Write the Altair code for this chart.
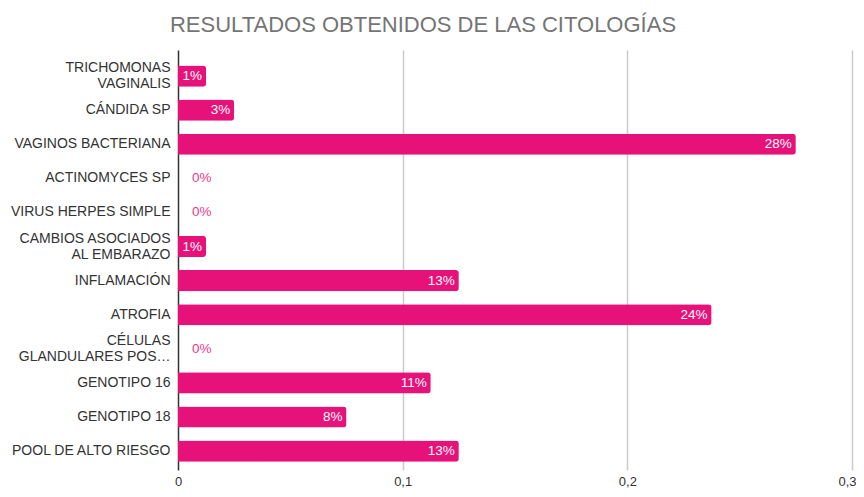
import altair as alt
import pandas as pd

categories = [
    "TRICHOMONAS\u00a0|VAGINALIS",
    "CÁNDIDA SP",
    "VAGINOS BACTERIANA",
    "ACTINOMYCES SP",
    "VIRUS HERPES SIMPLE",
    "CAMBIOS ASOCIADOS\u00a0|AL EMBARAZO",
    "INFLAMACIÓN\u00a0",
    "ATROFIA",
    "CÉLULAS\u00a0|GLANDULARES POS…",
    "GENOTIPO 16",
    "GENOTIPO 18",
    "POOL DE ALTO RIESGO",
]
values = [0.0125, 0.025, 0.275, 0.0, 0.0, 0.0125, 0.125, 0.2375, 0.0, 0.1125, 0.075, 0.125]
tick_values = [0, 0.1, 0.2, 0.3]

df = pd.DataFrame({"cat": categories, "v": values})

FONT = "Liberation Sans"
PINK = "#E7117A"

y = alt.Y(
    "cat:N",
    sort=categories,
    title=None,
    scale=alt.Scale(paddingInner=0.38, paddingOuter=0.35, align=0.65),
    axis=alt.Axis(
        labelExpr="split(datum.label, '|')",
        labelFontSize=14,
        labelColor="#333333",
        labelFont=FONT,
        labelLineHeight=16,
        labelPadding=8,
        labelBaseline="middle",
        labelOffset=alt.condition("indexof(datum.value, '|') >= 0", alt.value(-8), alt.value(0)),
        ticks=False,
        domain=False,
        labelLimit=0,
    ),
)
x = alt.X(
    "v:Q",
    title=None,
    scale=alt.Scale(domain=[0, 0.3], nice=False, zero=True),
    axis=alt.Axis(
        values=tick_values,
        labelExpr="replace(format(datum.value, '~g'), '.', ',')",
        grid=True,
        gridColor=alt.condition("datum.value === 0", alt.value("#333333"), alt.value("#cccccc")),
        gridWidth=1.5,
        domain=False,
        ticks=False,
        labelFlush=False,
        labelAlign=alt.condition("datum.value >= 0.3", alt.value("right"), alt.value("center")),
        labelOffset=alt.condition("datum.value >= 0.3", alt.value(4), alt.value(0)),
        labelPadding=5,
        labelFontSize=13,
        labelColor="#333333",
        labelFont=FONT,
    ),
)

base = alt.Chart(df)

bars = base.mark_bar(color=PINK, cornerRadiusTopRight=3, cornerRadiusBottomRight=3).encode(x=x, y=y)

inside = base.transform_filter("datum.v > 0").mark_text(
    align="right", baseline="middle", dx=-4, color="white", fontSize=13.5, font=FONT
).encode(x="v:Q", y=alt.Y("cat:N", sort=categories), text=alt.Text("v:Q", format=".0%"))

outside = base.transform_filter("datum.v == 0").mark_text(
    align="left", baseline="middle", dx=14, color="#EA3A8A", fontSize=13.5, font=FONT
).encode(x="v:Q", y=alt.Y("cat:N", sort=categories), text=alt.Text("v:Q", format=".0%"))

chart = (
    alt.layer(bars, inside, outside)
    .properties(
        width=674,
        height=420,
        padding={"left": 170, "top": 42, "right": 4, "bottom": 19},
        autosize="none",
        title=alt.TitleParams(
            "RESULTADOS OBTENIDOS DE LAS CITOLOGÍAS",
            fontSize=22,
            color="#757575",
            font=FONT,
            fontWeight="normal",
            anchor="middle",
            dx=-92,
            offset=13,
        ),
    )
    .configure_view(stroke=None)
)

chart.save("out.html", embed_options={"renderer": "svg", "actions": False})
